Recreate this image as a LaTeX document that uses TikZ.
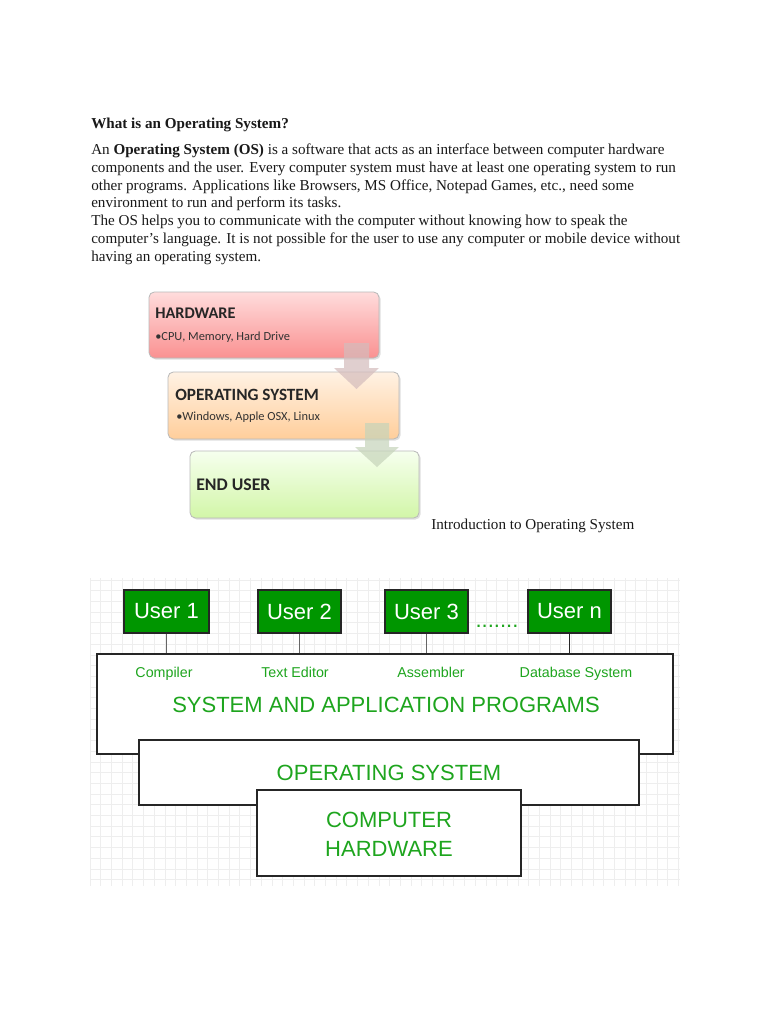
\documentclass[tikz,border=0pt]{standalone}
\usepackage{fontspec}
\setmainfont{Liberation Serif}
\newfontfamily\calib{Carlito}
\newfontfamily\arialf{Liberation Sans}
\usetikzlibrary{shadows}
\definecolor{txt}{RGB}{25,25,25}
\definecolor{ugreen}{RGB}{0,150,0}
\definecolor{lgreen}{RGB}{30,165,30}
\definecolor{gridc}{RGB}{238,238,238}
\definecolor{arrA}{RGB}{212,188,188}
\definecolor{arrB}{RGB}{198,212,186}
\begin{document}
\begin{tikzpicture}[x=0.75pt,y=-0.75pt,
  body/.style={anchor=base west, inner sep=0pt, font=\fontsize{11.35}{13}\selectfont, text=txt},
  gbox/.style={draw=gray!55, line width=0.6pt, rounded corners=4pt, inner sep=0pt,
     drop shadow={opacity=0.25, shadow xshift=1.2pt, shadow yshift=-1.2pt}},
  gtitle/.style={anchor=west, inner sep=0pt, text=black!85},
  gbullet/.style={anchor=west, inner sep=0pt, font=\calib\fontsize{9.3}{11}\selectfont, text=black!80},
  darr/.style={fill opacity=0.7},
  userbox/.style={draw=black!85, line width=1.1pt, fill=ugreen, inner sep=0pt,
     minimum width=83*0.75pt, minimum height=43*0.75pt, text=white,
     font=\arialf\fontsize{16.5}{18}\selectfont},
  layer/.style={draw=black!85, line width=1.3pt, fill=white, inner sep=0pt},
  gtext/.style={inner sep=0pt, text=lgreen, font=\arialf\fontsize{16.5}{20}\selectfont, align=center},
  stext/.style={inner sep=0pt, anchor=base, text=lgreen, font=\arialf\fontsize{10.7}{12}\selectfont},
  link/.style={draw=black!60, line width=0.6pt}
]
\useasboundingbox (0,0) rectangle (768,1024);
\fill[white] (0,0) rectangle (768,1024);

% ---- text ----
\node[body, font=\bfseries\fontsize{11.35}{13}\selectfont] (head) at (91,128) {What is an Operating System?};
\node[body] (l1) at (91,154) {An \textbf{Operating System (OS)} is a software that acts as an interface between computer hardware};
\node[body] (l2) at (91,172) {components and the user. Every computer system must have at least one operating system to run};
\node[body] (l3) at (91,190) {other programs. Applications like Browsers, MS Office, Notepad Games, etc., need some};
\node[body] (l4) at (91,207.5) {environment to run and perform its tasks.};
\node[body] (l5) at (91,225) {The OS helps you to communicate with the computer without knowing how to speak the};
\node[body] (l6) at (91,243) {computer’s language. It is not possible for the user to use any computer or mobile device without};
\node[body] (l7) at (91,261) {having an operating system.};

% ---- upper diagram ----
\node[gbox, top color={rgb,255:red,255;green,220;blue,220}, bottom color={rgb,255:red,250;green,145;blue,145},
  minimum width=230*0.75pt, minimum height=66*0.75pt] (hw) at (264,325) {};
\node[gbox, top color={rgb,255:red,255;green,242;blue,228}, bottom color={rgb,255:red,255;green,206;blue,155},
  minimum width=231*0.75pt, minimum height=67*0.75pt] (os) at (283.5,405.5) {};
\node[gbox, top color={rgb,255:red,246;green,255;blue,238}, bottom color={rgb,255:red,210;green,246;blue,168},
  minimum width=229*0.75pt, minimum height=67*0.75pt] (eu) at (304.5,484.5) {};

\node[gtitle, font=\calib\bfseries\fontsize{12.2}{14}\selectfont] (hwt) at (155,313) {HARDWARE};
\node[gbullet] (hwb) at (155,337) {•CPU, Memory, Hard Drive};
\node[gtitle, font=\calib\bfseries\fontsize{12.9}{14}\selectfont] (ost) at (175,395) {OPERATING SYSTEM};
\node[gbullet] (osb) at (176,417) {•Windows, Apple OSX, Linux};
\node[gtitle, font=\calib\bfseries\fontsize{13.3}{15}\selectfont] (eut) at (196,485) {END USER};

% arrows
\coordinate (a1) at (356.5,343);
\coordinate (a2) at (377,423);
\fill[arrA, darr] ([xshift=-12.5*0.75pt]a1) -- ([xshift=12.5*0.75pt]a1) -- ++(0,25) -- ++(10,0)
   -- ([yshift=-46*0.75pt]a1) -- ([xshift=-22.5*0.75pt,yshift=-25*0.75pt]a1) -- ++(10,0) -- cycle;
\fill[arrB, darr] ([xshift=-12*0.75pt]a2) -- ([xshift=12*0.75pt]a2) -- ++(0,24) -- ++(10,0)
   -- ([yshift=-44*0.75pt]a2) -- ([xshift=-22*0.75pt,yshift=-24*0.75pt]a2) -- ++(10,0) -- cycle;

\node[body] (cap) at (431,529) {Introduction to Operating System};

% ---- lower diagram ----
\foreach \gx in {90,100.7,...,680} \draw[gridc, line width=0.5pt] (\gx,578) -- (\gx,886);
\foreach \gy in {580,590.7,...,886} \draw[gridc, line width=0.5pt] (90,\gy) -- (680,\gy);

\node[layer, minimum width=576*0.75pt, minimum height=100*0.75pt] (sap) at (385,704) {};
\node[layer, minimum width=500*0.75pt, minimum height=65*0.75pt] (osl) at (389,772.5) {};
\node[layer, minimum width=264*0.75pt, minimum height=86*0.75pt] (chw) at (389,833) {};

\node[userbox, minimum width=85*0.75pt] (u1) at (166.5,611.5) {User 1};
\node[userbox] (u2) at (299.5,611.5) {User 2};
\node[userbox] (u3) at (426.5,611.5) {User 3};
\node[userbox] (un) at (569.5,611.5) {User n};
\node[inner sep=0pt, text=lgreen, font=\arialf\fontsize{16.5}{18}\selectfont, anchor=base] (dots) at (497,627) {.......};

\draw[link] (u1.south) -- (u1.south |- sap.north);
\draw[link] (u2.south) -- (u2.south |- sap.north);
\draw[link] (u3.south) -- (u3.south |- sap.north);
\draw[link, draw=black!85, line width=0.9pt] (un.south) -- (un.south |- sap.north);

\node[stext] (c1) at (164,677) {Compiler};
\node[stext] (c2) at (295,677) {Text Editor};
\node[stext] (c3) at (431,677) {Assembler};
\node[stext] (c4) at (576,677) {Database System};
\node[gtext] (sapt) at (386,705) {SYSTEM AND APPLICATION PROGRAMS};
\node[gtext] (oslt) at (389,773) {OPERATING SYSTEM};
\node[gtext] (chwt) at (389,834) {COMPUTER\\[2pt]HARDWARE};
\end{tikzpicture}
\end{document}
